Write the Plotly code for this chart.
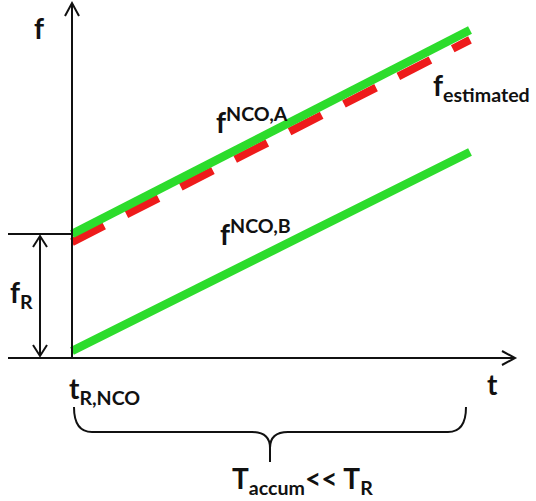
import plotly.graph_objects as go

# ---- data (semantic units: t in accumulation periods, f in units of f_R) ----
t_values = [0.0, 1.0]
f_nco_a = [1.0, 2.645]
f_estimated = [0.935, 2.565]
f_nco_b = [0.056, 1.661]

GREEN = "#2CDC2C"
RED = "#EE1B1B"
INK = "#111111"
FONT = "Lato"

W, H = 536, 501
X0, Y0 = 72, 358       # pixel position of the origin
PX_T, PX_F = 398, 124  # pixels per unit

t_range = [(0 - X0) / PX_T, (W - X0) / PX_T]
f_range = [(Y0 - H) / PX_F, Y0 / PX_F]


def P(x, y):
    return x / W, 1 - y / H


def path(cmds):
    out = []
    for c in cmds:
        if isinstance(c, str):
            out.append(c)
        else:
            px, py = P(*c)
            out.append(f"{px:.5f},{py:.5f}")
    return " ".join(out)


fig = go.Figure()
fig.add_trace(go.Scatter(x=t_values, y=f_estimated, mode="lines",
                         line=dict(color=RED, width=8, dash="36px,25px"),
                         hoverinfo="skip", showlegend=False))
fig.add_trace(go.Scatter(x=t_values, y=f_nco_a, mode="lines",
                         line=dict(color=GREEN, width=8.5),
                         hoverinfo="skip", showlegend=False))
fig.add_trace(go.Scatter(x=t_values, y=f_nco_b, mode="lines",
                         line=dict(color=GREEN, width=8.5),
                         hoverinfo="skip", showlegend=False))

shapes = []


def seg(cmds, width=2):
    shapes.append(dict(type="path", xref="paper", yref="paper",
                       path=path(cmds), line=dict(color=INK, width=width)))


# y axis with open arrowhead
seg(["M", (72, 358), "L", (72, 3)])
seg(["M", (65, 16), "L", (72, 3), "L", (79, 16)])
# x axis with open arrowhead
seg(["M", (8, 358), "L", (515, 358)])
seg(["M", (502, 351), "L", (515, 358), "L", (502, 365)])
# f_R reference line and double arrow
seg(["M", (8, 234), "L", (72, 234)])
seg(["M", (40, 236), "L", (40, 356)])
seg(["M", (33, 247), "L", (40, 236), "L", (47, 247)])
seg(["M", (33, 345), "L", (40, 356), "L", (47, 345)])
# brace
seg(["M", (74, 407), "Q", (74, 432), (92, 432), "L", (252, 432),
     "Q", (270, 432), (270, 448), "L", (270, 462),
     "M", (270, 448), "Q", (270, 432), (288, 432), "L", (448, 432),
     "Q", (466, 432), (466, 407)])

annotations = []


def label(text, x, y, size=28, xanchor="center"):
    px, py = P(x, y)
    annotations.append(dict(text=text, x=px, y=py, xref="paper", yref="paper",
                            xanchor=xanchor, yanchor="middle", showarrow=False,
                            font=dict(family=FONT, size=size, color=INK, weight="bold")))


label("f", 39, 28)
label("t", 492, 384)
label("t<sub>R,NCO</sub>", 104, 390)
label("f<sub>R</sub>", 21, 294)
label("f<sup>NCO,A</sup>", 252, 121)
label("f<sup>NCO,B</sup>", 255, 232)
label("f<sub>estimated</sub>", 481, 87)
label("T<sub>accum</sub><< T<sub>R</sub>", 302, 480)

fig.update_layout(
    width=W, height=H,
    margin=dict(l=0, r=0, t=0, b=0),
    paper_bgcolor="white", plot_bgcolor="white",
    xaxis=dict(range=t_range, visible=False, fixedrange=True),
    yaxis=dict(range=f_range, visible=False, fixedrange=True),
    shapes=shapes, annotations=annotations,
)

fig.write_html("out.html", config=dict(displayModeBar=False),
               post_script="document.body.style.margin='0';")
